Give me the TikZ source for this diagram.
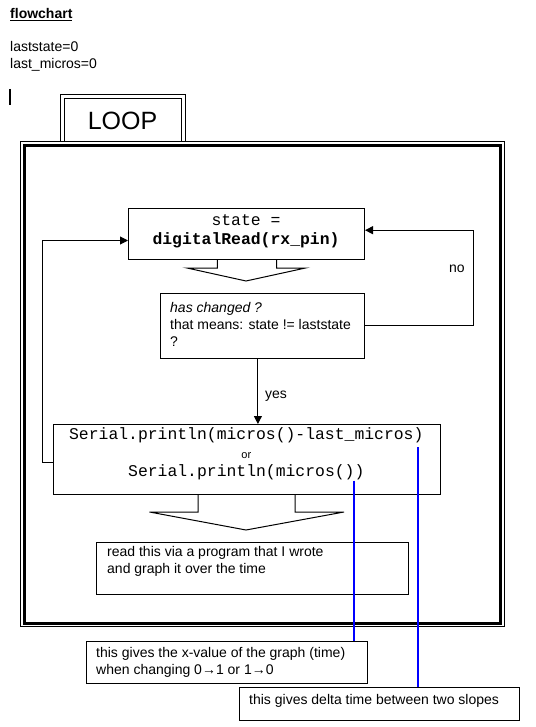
\documentclass[tikz,border=0pt]{standalone}
\usepackage{fontspec}
\setmainfont{Liberation Sans}
\newfontfamily\monof{Liberation Mono}
\usetikzlibrary{arrows.meta}
\definecolor{pureblue}{RGB}{0,0,255}
\newcommand\sansf{\fontsize{14}{17}\selectfont}
\newcommand\codef{\monof\fontsize{16.4}{18.5}\selectfont}
\tikzset{
  box/.style={draw, line width=1pt, inner sep=0pt, anchor=north west},
  txt/.style={font=\sansf, inner sep=0pt, anchor=west, align=left},
  conn/.style={line width=1pt},
  arr/.style={conn, -{Triangle[length=8pt,width=8pt]}},
  blueline/.style={draw=pureblue, line width=2pt},
  blockarrow/.style={line width=1pt}
}
\begin{document}
\begin{tikzpicture}[x=1pt,y=-1pt]
\useasboundingbox (0,0) rectangle (535,727);
% header
\node[txt, anchor=base west, font=\sansf\bfseries] (title) at (10,19) {\underline{flowchart}};
\node[txt] (vars) at (10,56) {laststate=0\\last\_micros=0};
\draw[line width=2pt] (10,89) -- (10,105);
% LOOP tab
\draw[line width=1pt] (60,142) -- (60,95) -- (185,95) -- (185,142);
\draw[line width=1pt] (64,142) -- (64,99) -- (181,99) -- (181,142);
\node[inner sep=0pt, font=\fontsize{25}{28}\selectfont] (loop) at (122.5,120.5) {LOOP};
% big frame
\draw[line width=1pt] (20.5,142) rectangle (504,626.5);
\draw[line width=3pt] (24,146) rectangle (500.5,623);
% boxes
\node[box, minimum width=236pt, minimum height=51pt] (b1) at (128,208) {};
\node[inner sep=0pt, font=\codef, align=center] (b1t) at (246,231.5) {state =\\\textbf{digitalRead(rx\_pin)}};
\node[box, minimum width=204pt, minimum height=65pt] (b2) at (160.4,292.6) {};
\node[txt] (b2t) at (170,324) {\textit{has changed ?}\\that means: state != laststate\\?};
\node[box, minimum width=387pt, minimum height=70pt] (b3) at (53,424) {};
\node[inner sep=0pt, font=\codef, align=center] (b3t) at (246.3,454) {Serial.println(micros()-last\_micros)\\{\rmfamily\fontsize{11}{18.5}\selectfont or}\\Serial.println(micros())};
\node[box, minimum width=312pt, minimum height=52pt] (b4) at (96,542.4) {};
\node[txt] (b4t) at (107,561) {read this via a program that I wrote\\and graph it over the time};
\node[box, minimum width=281pt, minimum height=42pt] (b5) at (86.3,640.7) {};
\node[txt] (b5t) at (96,662) {this gives the x-value of the graph (time)\\when changing 0→1 or 1→0};
\node[box, minimum width=280pt, minimum height=33pt] (b6) at (239,687.4) {};
\node[txt] (b6t) at (249,701) {this gives delta time between two slopes};
% block arrows
\draw[blockarrow] (217.4,259) -- (217.4,268) -- (187,268) -- (246,281) -- (305.5,268) -- (276.5,268) -- (276.5,259);
\draw[blockarrow] (198,494) -- (198,512) -- (149.5,512) -- (246,530) -- (344,512) -- (295,512) -- (295,494);
% connectors
\draw[arr] (b2.east) -- ++(108,0) |- ([yshift=3.8pt]b1.east);
\node[txt] (no) at (449,269) {no};
\draw[arr] ([xshift=-5pt]b2.south) -- ([xshift=-5pt]b2.south |- b3.north);
\node[txt] (yes) at (265,396) {yes};
\draw[arr] ([yshift=-3pt]b3.west) -- ++(-11,0) |- ([yshift=-6.5pt]b1.west);
% blue pointers
\coordinate (pa) at (354,480.6);
\coordinate (pb) at (417.7,447);
\draw[blueline] (pa) -- (pa |- b5.north);
\draw[blueline] (pb) -- (pb |- b6.north);
\end{tikzpicture}
\end{document}
